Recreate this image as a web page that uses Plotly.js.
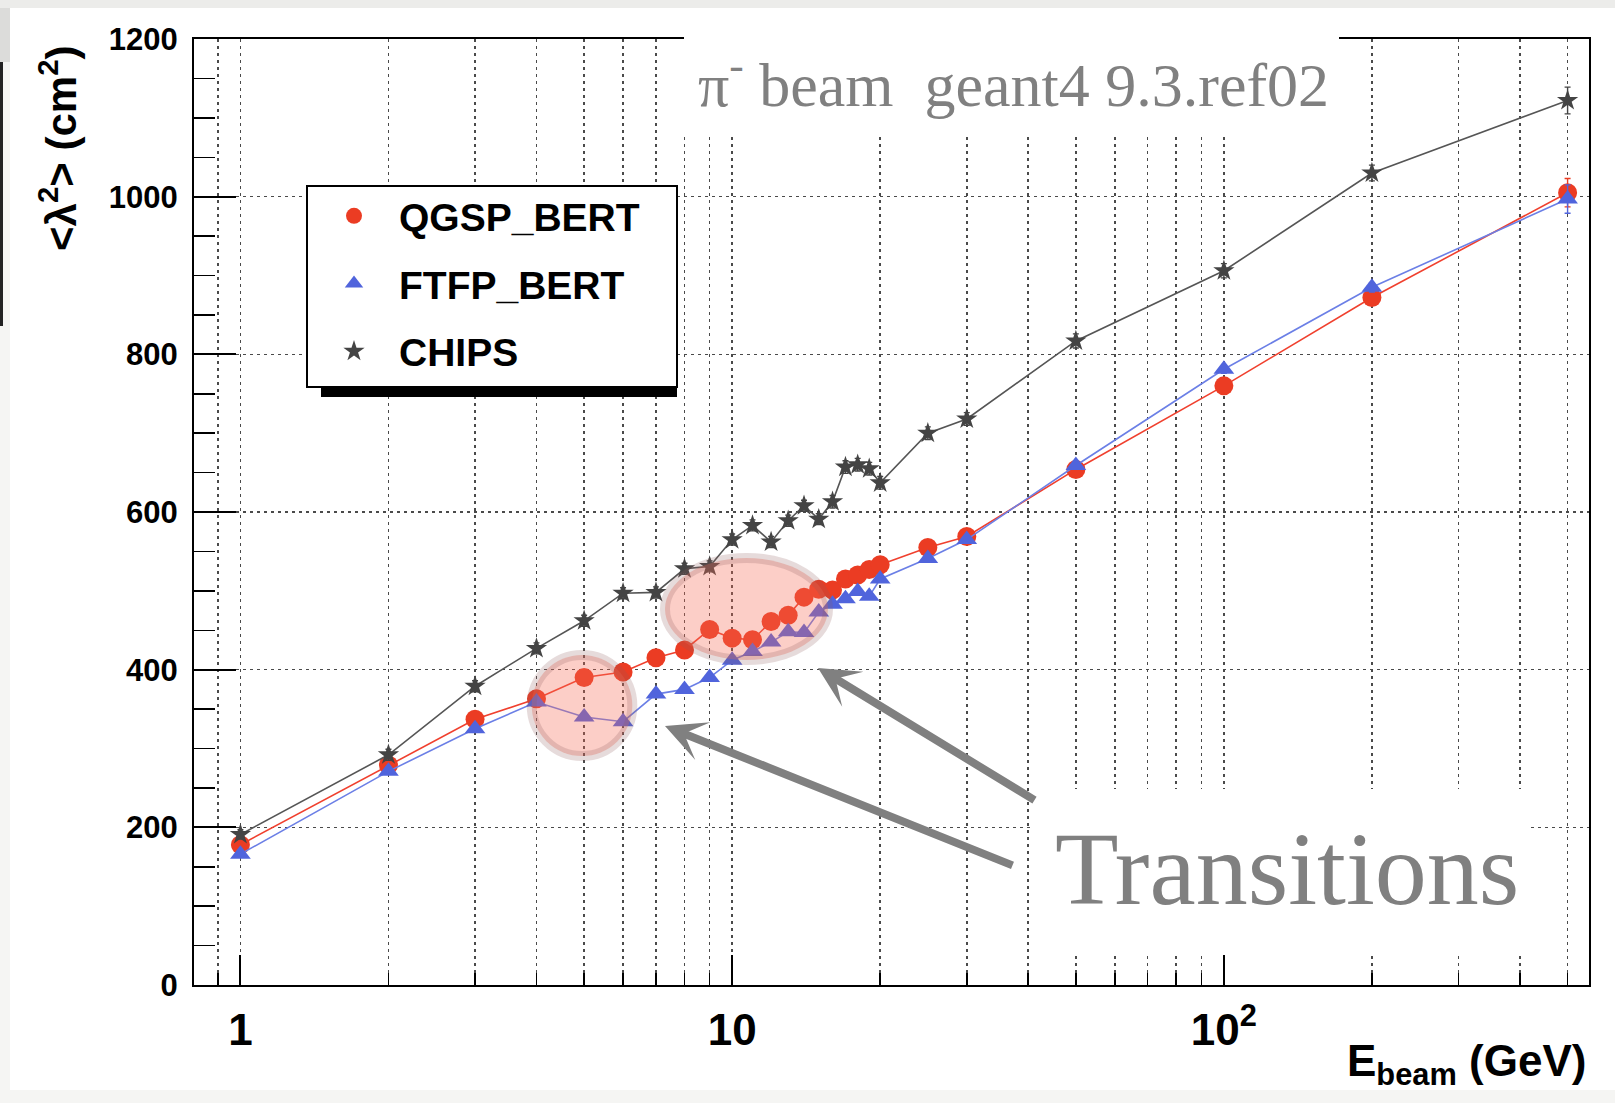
<!DOCTYPE html>
<html>
<head>
<meta charset="utf-8">
<script src="https://cdn.plot.ly/plotly-3.0.1.min.js"></script>
<style>html,body{margin:0;padding:0;background:#fff;}#chart{width:1615px;height:1103px;}</style>
</head>
<body>
<div id="chart"></div>
<script>
// ---- data ----
const energy = [1,2,3,4,5,6,7,8,9,10,11,12,13,14,15,16,17,18,19,20,25,30,50,100,200,500];
const qgspBert = [178,279,337,363,390,397,415,425,451,440,438,461,469,492,502,501,515,520,527,533,555,569,654,760,872,1005];
const ftfpBert = [166,271,325,359,340,334,369,375,390,412,423,435,448,447,473,483,490,499,493,515,541,565,659,781,885,997];
const chips    = [191,292,379,427,462,497,498,528,531,565,583,562,589,608,591,613,657,660,655,637,700,718,817,906,1030,1122];
const qgspErr  = [3,3,3,3,3,3,3,3,3,3,3,3,3,3,3,3,3,3,3,3,3,3,4,5,6,18];
const ftfpErr  = [3,3,3,3,3,3,3,3,3,3,3,3,3,3,3,3,3,3,3,3,3,3,4,5,6,18];
const chipsErr = [6,7,7,7,7,7,7,7,7,7,7,7,7,7,7,8,8,8,8,8,8,8,9,9,10,17];
const seriesNames = ['QGSP_BERT','FTFP_BERT','CHIPS'];
const xTickVals = [1,10,100];
const xTickText = ['1','10','10<sup>2</sup>'];

// ---- geometry helpers (pixel -> paper) ----
const L = 194, T = 39, W = 1395, H = 946;
const px = X => (X - L) / W;
const py = Y => (T + H - Y) / H;

const sans = 'Liberation Sans, Arial, Helvetica, sans-serif';
const serif = 'Liberation Serif, Times New Roman, serif';

const red = '#eb3c23', blue = '#5064dc', dark = '#444444';

function lineTrace(y, color, name) {
  return {x: energy, y: y, mode: 'lines', type: 'scatter', showlegend: false,
          line: {color: color, width: 1.6}, hoverinfo: 'skip', name: name};
}
function markerTrace(y, err, color, symbol, size, name, group) {
  return {x: energy, y: y, mode: 'markers', type: 'scatter', name: name, legendgroup: group,
          marker: {color: color, symbol: symbol, size: size},
          error_y: {type: 'data', array: err, color: color, thickness: 1.4, width: 3}};
}

const data = [
  lineTrace(qgspBert, '#f0402e', seriesNames[0]),
  markerTrace(qgspBert, qgspErr, red, 'circle', 19, seriesNames[0], 'g1'),
  lineTrace(ftfpBert, '#6b7fe6', seriesNames[1]),
  markerTrace(ftfpBert, ftfpErr, blue, 'triangle-up', 18, seriesNames[1], 'g2'),
  lineTrace(chips, '#555555', seriesNames[2]),
  markerTrace(chips, chipsErr, dark, 'star', 16, seriesNames[2], 'g3')
];

const gridDash = '3px,4px';
const gridColor = '#4a4a4a';
const shapes = [
  // page artifacts
  {type:'rect', xref:'paper', yref:'paper', x0:px(0), x1:px(1615), y0:py(0), y1:py(8), fillcolor:'#ececea', line:{width:0}, layer:'below'},
  {type:'rect', xref:'paper', yref:'paper', x0:px(0), x1:px(10), y0:py(8), y1:py(1103), fillcolor:'#f5f5f3', line:{width:0}, layer:'below'},
  {type:'rect', xref:'paper', yref:'paper', x0:px(0), x1:px(1615), y0:py(1090), y1:py(1103), fillcolor:'#f5f5f3', line:{width:0}, layer:'below'},
  {type:'rect', xref:'paper', yref:'paper', x0:px(0), x1:px(10), y0:py(8), y1:py(62), fillcolor:'#dcdcda', line:{width:0}, layer:'below'},
  {type:'rect', xref:'paper', yref:'paper', x0:px(0), x1:px(3), y0:py(62), y1:py(326), fillcolor:'#222222', line:{width:0}, layer:'below'},
  // white box behind the title text
  {type:'rect', xref:'paper', yref:'paper', x0:px(684), x1:px(1339), y0:py(30), y1:py(133), fillcolor:'#ffffff', line:{width:0}, layer:'above'},
  // white box behind "Transitions"
  {type:'rect', xref:'paper', yref:'paper', x0:px(1034), x1:px(1529), y0:py(789), y1:py(953), fillcolor:'#ffffff', line:{width:0}, layer:'above'},
  // legend shadow + box
  {type:'rect', xref:'paper', yref:'paper', x0:px(321), x1:px(677), y0:py(385), y1:py(397), fillcolor:'#000000', line:{width:0}, layer:'above'},
  {type:'rect', xref:'paper', yref:'paper', x0:px(307), x1:px(677), y0:py(186), y1:py(387), fillcolor:'#ffffff', line:{color:'#000000', width:2}, layer:'above'},
  // highlight ellipses
  {type:'circle', xref:'paper', yref:'paper', x0:px(531.7), x1:px(632.3), y0:py(655), y1:py(756),
   fillcolor:'rgba(245,105,85,0.33)', line:{color:'rgba(140,90,90,0.22)', width:10}, layer:'above'},
  {type:'circle', xref:'paper', yref:'paper', x0:px(665), x1:px(828), y0:py(558), y1:py(660),
   fillcolor:'rgba(245,105,85,0.33)', line:{color:'rgba(140,90,90,0.22)', width:10}, layer:'above'}
];

const annotations = [
  {xref:'paper', yref:'paper', x:px(696), y:py(80), xanchor:'left', yanchor:'middle', showarrow:false,
   text:'π<sup>-</sup> beam&nbsp;&nbsp;geant4 9.3.ref02', font:{family:serif, size:62, color:'#808080'}},
  {xref:'paper', yref:'paper', x:px(1053), y:py(868), xanchor:'left', yanchor:'middle', showarrow:false,
   text:'Transitions', font:{family:serif, size:104, color:'#808080'}},
  {xref:'paper', yref:'paper', x:px(818), y:py(668), ax:218, ay:133, text:'', showarrow:true,
   arrowhead:3, arrowsize:0.85, arrowwidth:8, arrowcolor:'#808080', standoff:0},
  {xref:'paper', yref:'paper', x:px(665), y:py(726), ax:349, ay:140, text:'', showarrow:true,
   arrowhead:3, arrowsize:0.85, arrowwidth:8, arrowcolor:'#808080', standoff:0},
  {xref:'paper', yref:'paper', x:px(58), y:py(148), textangle:-90, xanchor:'center', yanchor:'middle', showarrow:false,
   text:'&lt;λ<sup>2</sup>&gt; (cm<sup>2</sup>)', font:{family:sans, size:42, color:'#000', weight:'bold'}},
  {xref:'paper', yref:'paper', x:px(1588), y:py(1034), xanchor:'right', yanchor:'top', showarrow:false,
   text:'E<sub>beam</sub> (GeV)', font:{family:sans, size:44, color:'#000', weight:'bold'}}
];

const layout = {
  width: 1615, height: 1103,
  margin: {l: L, r: 1615 - L - W, t: T, b: 1103 - T - H, pad: 0},
  paper_bgcolor: '#ffffff', plot_bgcolor: '#ffffff',
  showlegend: true,
  legend: {x: px(309), y: py(184), xanchor:'left', yanchor:'top', bgcolor:'rgba(0,0,0,0)', borderwidth:0,
           font:{family: sans, size: 39, color:'#000', weight:'bold'}, tracegroupgap: 14, itemwidth: 80},
  xaxis: {type:'log', range:[-0.0944, 2.7425], showline:true, linecolor:'#000', linewidth:2, mirror:true,
          zeroline:false, tickmode:'array', tickvals:xTickVals, ticktext:xTickText,
          ticks:'inside', ticklen:30, tickwidth:2, tickcolor:'#000', ticklabelstandoff: 5,
          tickfont:{family:sans, size:44, color:'#000', weight:'bold'},
          showgrid:true, gridcolor:gridColor, gridwidth:1.5, griddash:gridDash,
          minor:{dtick:'D1', ticks:'inside', ticklen:12, tickwidth:1.5, tickcolor:'#000',
                 showgrid:true, gridcolor:gridColor, gridwidth:1.5, griddash:gridDash}},
  yaxis: {range:[0,1200], showline:true, linecolor:'#000', linewidth:2, mirror:true, zeroline:false,
          tickmode:'linear', tick0:0, dtick:200, ticks:'inside', ticklen:42, tickwidth:2, tickcolor:'#000',
          ticklabelstandoff: 8,
          tickfont:{family:sans, size:31, color:'#000', weight:'bold'},
          showgrid:true, gridcolor:gridColor, gridwidth:1.5, griddash:gridDash,
          minor:{dtick:50, ticks:'inside', ticklen:21, tickwidth:1.5, tickcolor:'#000', showgrid:false}},
  shapes: shapes,
  annotations: annotations
};

Plotly.newPlot('chart', data, layout, {displayModeBar:false, staticPlot:true});
</script>
</body>
</html>
